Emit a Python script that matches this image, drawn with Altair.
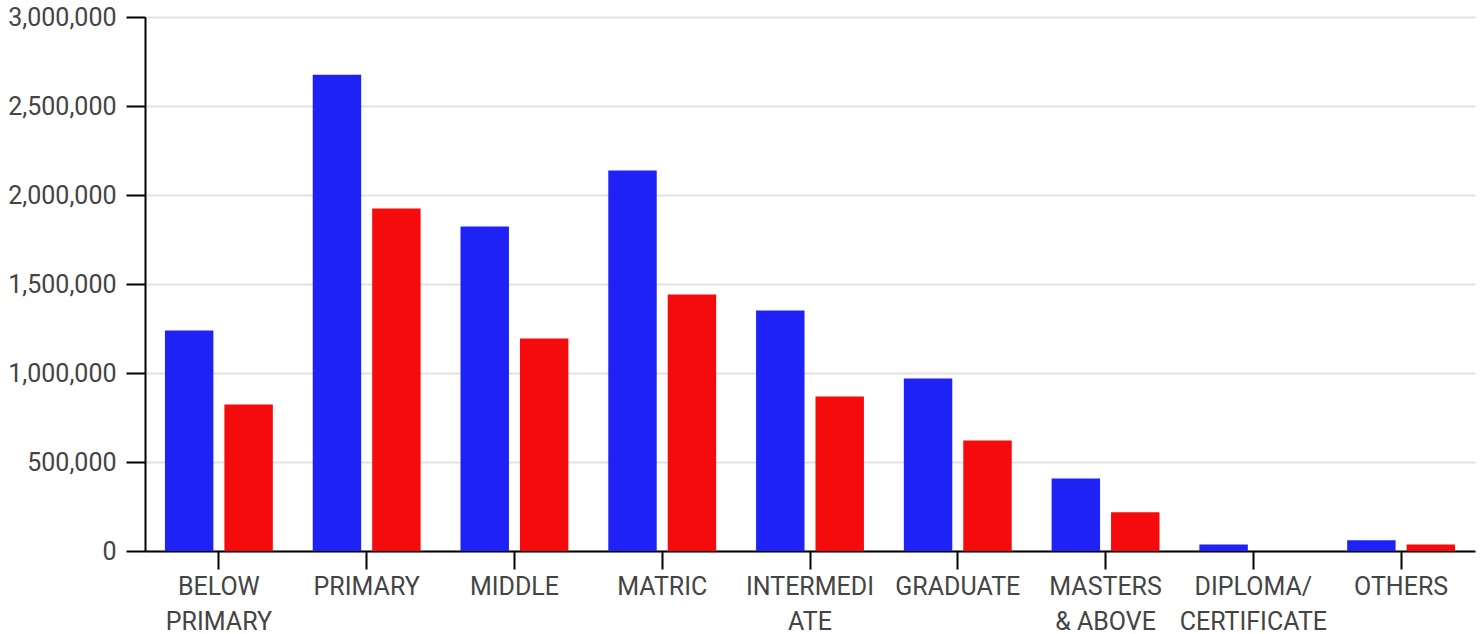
import altair as alt
import pandas as pd

categories = ["BELOW PRIMARY", "PRIMARY", "MIDDLE", "MATRIC", "INTERMEDIATE",
              "GRADUATE", "MASTERS & ABOVE", "DIPLOMA/CERTIFICATE", "OTHERS"]
tick_lines = [["BELOW", "PRIMARY"], ["PRIMARY"], ["MIDDLE"], ["MATRIC"],
              ["INTERMEDI", "ATE"], ["GRADUATE"], ["MASTERS", "& ABOVE"],
              ["DIPLOMA/", "CERTIFICATE"], ["OTHERS"]]
series_names = ["Series A", "Series B"]
series_a = [1239000, 2676000, 1823000, 2137000, 1351000, 969000, 408000, 37000, 60000]
series_b = [823000, 1924000, 1194000, 1441000, 868000, 621000, 217000, 0, 37000]
colors = ["#1f22f5", "#f50b0b"]

rows = []
for i, c in enumerate(categories):
    rows.append({"category": c, "series": series_names[0], "value": series_a[i]})
    rows.append({"category": c, "series": series_names[1], "value": series_b[i]})
df = pd.DataFrame(rows)

# label expression: map category -> list of lines
expr = "datum.label"
for c, lines in reversed(list(zip(categories, tick_lines))):
    arr = "[" + ",".join("'" + l + "'" for l in lines) + "]"
    expr = f"datum.label == '{c}' ? {arr} : ({expr})"

chart = alt.Chart(df).mark_bar().encode(
    x=alt.X("category:N", sort=categories,
            scale=alt.Scale(paddingInner=0.27, paddingOuter=0.135),
            axis=alt.Axis(title=None, labelAngle=0, labelExpr=expr,
                          labelFont="Roboto", labelFontSize=25, labelColor="#444444",
                          labelLineHeight=35, labelPadding=5,
                          tickSize=18, tickWidth=2, tickColor="black",
                          domainColor="black", domainWidth=2,
                          labelBaseline="top", grid=False)),
    xOffset=alt.XOffset("series:N", sort=series_names,
                        scale=alt.Scale(paddingInner=0.185, paddingOuter=0)),
    y=alt.Y("value:Q", scale=alt.Scale(domain=[0, 3000000], nice=False),
            axis=alt.Axis(title=None, values=[0, 500000, 1000000, 1500000, 2000000, 2500000, 3000000],
                          format=",d", labelFont="Roboto", labelFontSize=25,
                          labelColor="#444444", labelPadding=10,
                          tickSize=19, tickWidth=2, tickColor="black",
                          domainColor="black", domainWidth=2,
                          gridColor="#e2e2e2", gridWidth=2)),
    color=alt.Color("series:N", sort=series_names,
                    scale=alt.Scale(domain=series_names, range=colors), legend=None),
).properties(
    width=1330, height=534,
    autosize=alt.AutoSizeParams(type="none"),
    padding={"left": 145, "top": 17, "right": 8, "bottom": 83},
).configure_view(stroke=None)

chart.save("out.html", embed_options={"renderer": "svg", "actions": False})
